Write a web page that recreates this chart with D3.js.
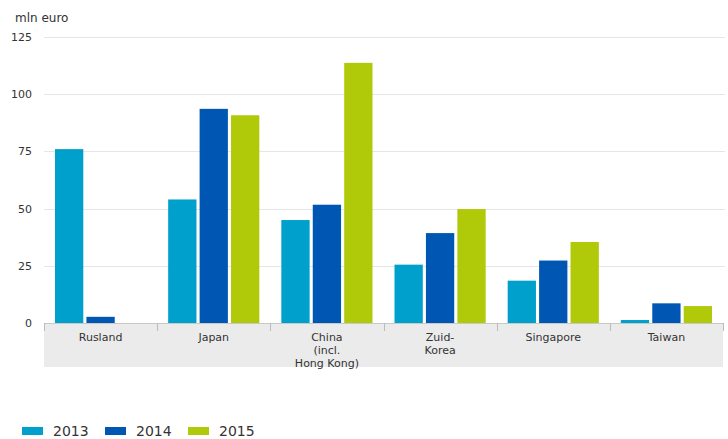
<!DOCTYPE html>
<html>
<head>
<meta charset="utf-8">
<script src="https://cdn.jsdelivr.net/npm/d3@7"></script>
<style>
body { margin: 0; background: #fff; }
svg { display: block; font-family: "DejaVu Sans", Verdana, sans-serif; }
</style>
</head>
<body>
<div class="chart"></div>
<script>
var countries = ["Rusland", "Japan", "China\n(incl.\nHong Kong)", "Zuid-\nKorea", "Singapore", "Taiwan"];
var years = ["2013", "2014", "2015"];
var v2013 = [76, 54, 45, 25.5, 18.5, 1.3];
var v2014 = [2.7, 93.6, 51.7, 39.3, 27.3, 8.6];
var v2015 = [0, 90.8, 113.7, 49.8, 35.4, 7.4];
var yTicks = [0, 25, 50, 75, 100, 125];

var colors = {
	c2013: "#00a0cc",
	c2014: "#0057b3",
	c2015: "#b0ca0a",
	grid: "#e6e6e6",
	band: "#ebebeb",
	text: "#333"
};
var yearColors = [colors.c2013, colors.c2014, colors.c2015];
var series = [v2013, v2014, v2015];

var width = 728, height = 439;
var margin = {left: 44, right: 5, top: 37, bottom: 116};

var svg = d3.select(".chart").append("svg")
	.attr("width", width)
	.attr("height", height);

var x = d3.scaleBand()
	.domain(d3.range(countries.length))
	.range([margin.left, 723]);

var xi = d3.scaleBand()
	.domain(years)
	.range([0, x.bandwidth()])
	.paddingInner(0.1)
	.paddingOuter(0.35);

var y = d3.scaleLinear()
	.domain([0, 125])
	.range([height - margin.bottom, margin.top]);

// gridlines
svg.selectAll(".grid")
	.data(yTicks.filter(function(d){ return d > 0; }))
	.enter().append("line")
		.attr("class", "grid")
		.attr("x1", margin.left)
		.attr("x2", 725)
		.attr("y1", function(d){ return Math.round(y(d)) + 0.5; })
		.attr("y2", function(d){ return Math.round(y(d)) + 0.5; })
		.style("stroke", colors.grid);

// y labels
svg.selectAll(".ylab")
	.data(yTicks)
	.enter().append("text")
		.attr("class", "ylab")
		.attr("x", 32)
		.attr("y", function(d){ return y(d) + 4; })
		.attr("text-anchor", "end")
		.style("font-size", "11px")
		.style("fill", colors.text)
		.text(function(d){ return d; });

svg.append("text")
	.attr("x", 15)
	.attr("y", 22)
	.style("font-size", "12px")
	.style("fill", colors.text)
	.text("mln euro");

// category band
var y0 = y(0);
svg.append("rect")
	.attr("x", margin.left)
	.attr("y", y0)
	.attr("width", x.range()[1] - margin.left)
	.attr("height", 44)
	.style("fill", colors.band);

svg.append("line")
	.attr("x1", margin.left)
	.attr("x2", x.range()[1])
	.attr("y1", y0 + 0.5)
	.attr("y2", y0 + 0.5)
	.style("stroke", "#c8c8c8");

svg.selectAll(".tick-sep")
	.data(d3.range(countries.length + 1))
	.enter().append("line")
		.attr("class", "tick-sep")
		.attr("x1", function(d){ return Math.round(margin.left + d * x.step()) + 0.5; })
		.attr("x2", function(d){ return Math.round(margin.left + d * x.step()) + 0.5; })
		.attr("y1", y0)
		.attr("y2", y0 + 8)
		.style("stroke", "#bbb");

// bars
var groups = svg.selectAll(".group")
	.data(countries)
	.enter().append("g")
		.attr("class", "group")
		.attr("transform", function(d, i){ return "translate(" + x(i) + ",0)"; });

groups.selectAll("rect")
	.data(function(d, i){
		return years.map(function(yr, j){ return {year: yr, value: series[j][i], color: yearColors[j]}; });
	})
	.enter().append("rect")
		.attr("x", function(d){ return xi(d.year); })
		.attr("width", xi.bandwidth())
		.attr("y", function(d){ return y(d.value); })
		.attr("height", function(d){ return y0 - y(d.value); })
		.style("fill", function(d){ return d.color; });

// category labels
groups.append("text")
	.attr("text-anchor", "middle")
	.style("font-size", "11px")
	.style("fill", colors.text)
	.each(function(d){
		var t = d3.select(this);
		d.split("\n").forEach(function(line, k){
			t.append("tspan")
				.attr("x", x.bandwidth() / 2)
				.attr("y", y0 + 18 + k * 13)
				.text(line);
		});
	});

// legend
var legend = svg.selectAll(".legend")
	.data(years)
	.enter().append("g")
		.attr("class", "legend")
		.attr("transform", function(d, i){ return "translate(" + (22 + i * 83) + ",431)"; });

legend.append("rect")
	.attr("x", 0)
	.attr("y", -4)
	.attr("width", 21)
	.attr("height", 8)
	.style("fill", function(d, i){ return yearColors[i]; });

legend.append("text")
	.attr("x", 31)
	.attr("y", 5)
	.style("font-size", "14px")
	.style("fill", colors.text)
	.text(function(d){ return d; });
</script>
</body>
</html>
